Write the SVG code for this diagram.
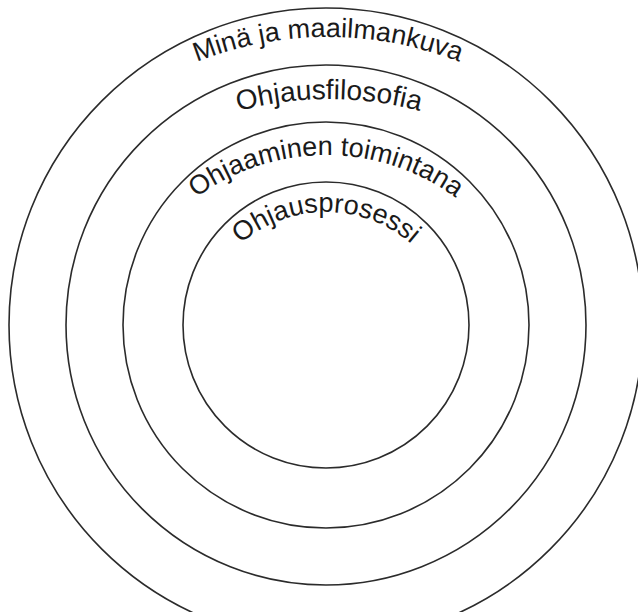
<svg xmlns="http://www.w3.org/2000/svg" width="638" height="612" viewBox="0 0 638 612">
  <style>
    .ring { fill: none; stroke: #2b2b2b; stroke-width: 1.6; }
    .lbl { font-family: "Liberation Sans", Arial, sans-serif; font-size: 27px; fill: #1a1a1a; }
    .big { font-size: 28px; }
  </style>
  <defs>
    <path id="arc1" d="M -30 395 A 358 358 0 0 1 686 395"/>
    <path id="arc2" d="M -21 449 A 350 350 0 0 1 679 449"/>
    <path id="arc3" d="M 107 374 A 219 219 0 0 1 545 374"/>
    <path id="arc4" d="M 196 342 A 130 130 0 0 1 456 342"/>
  </defs>
  <rect width="638" height="612" fill="#ffffff"/>
  <g id="ring-mina">
    <circle class="ring" cx="326" cy="325" r="317"/>
    <text class="lbl"><textPath href="#arc1" startOffset="50%" text-anchor="middle">Minä ja maailmankuva</textPath></text>
  </g>
  <g id="ring-ohjausfilosofia">
    <circle class="ring" cx="326" cy="325" r="260"/>
    <text class="lbl big"><textPath href="#arc2" startOffset="50%" text-anchor="middle">Ohjausfilosofia</textPath></text>
  </g>
  <g id="ring-ohjaaminen">
    <circle class="ring" cx="326" cy="325" r="203"/>
    <text class="lbl"><textPath href="#arc3" startOffset="50%" text-anchor="middle">Ohjaaminen toimintana</textPath></text>
  </g>
  <g id="ring-ohjausprosessi">
    <circle class="ring" cx="326" cy="325" r="143"/>
    <text class="lbl"><textPath href="#arc4" startOffset="50%" text-anchor="middle">Ohjausprosessi</textPath></text>
  </g>
  <g id="connectors"></g>
</svg>
